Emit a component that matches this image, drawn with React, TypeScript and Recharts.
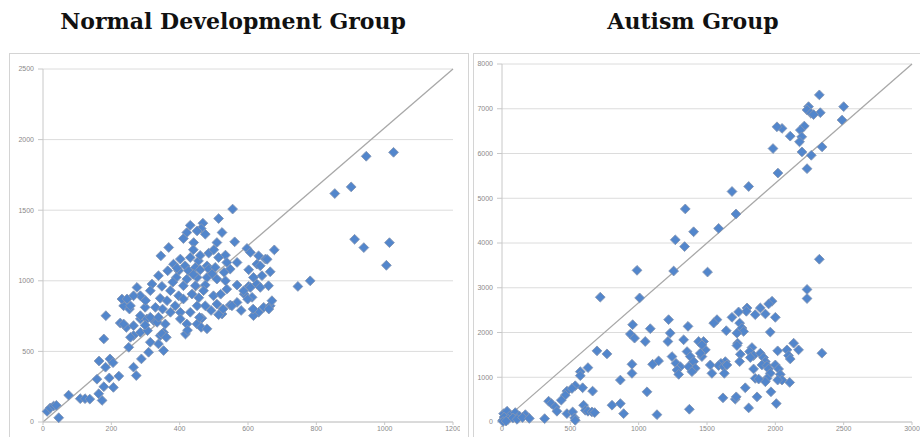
import React from "react";
import {
  ScatterChart,
  Scatter,
  XAxis,
  YAxis,
  CartesianGrid,
  ReferenceLine,
} from "recharts";

// Normal development group: [x, y]
const normalPoints: [number, number][] = [
  [12, 75], [21, 99], [31, 113], [39, 118], [46, 30], [75, 190], [109, 165], [123, 165],
  [137, 162], [158, 303], [163, 200], [164, 432], [173, 153], [178, 250], [183, 388], [178, 588],
  [184, 753], [194, 312], [196, 447], [205, 420], [206, 245], [222, 325], [251, 529], [265, 388],
  [273, 329], [288, 447], [309, 494], [314, 565], [338, 553], [353, 506], [343, 612], [353, 635],
  [236, 823], [253, 800], [226, 701], [244, 670], [265, 682], [285, 730], [285, 635], [306, 647],
  [304, 730], [324, 718], [334, 706], [348, 624], [361, 600], [265, 612], [256, 600],
  [555, 1508], [514, 1441], [431, 1393], [468, 1408], [463, 1370], [421, 1342], [451, 1353],
  [475, 1330], [524, 1342], [411, 1299], [441, 1271], [509, 1271], [561, 1276], [368, 1236],
  [597, 1229], [677, 1219], [485, 1196], [345, 1177], [534, 1182], [607, 1201], [631, 1177],
  [651, 1154], [402, 1154], [431, 1165], [455, 1141], [514, 1165], [568, 1130], [626, 1118],
  [382, 1118], [416, 1106], [446, 1095], [480, 1106], [538, 1130], [365, 1071], [397, 1071],
  [426, 1071], [460, 1078], [485, 1083], [504, 1095], [548, 1083], [602, 1078], [636, 1106],
  [665, 1064], [390, 1024], [421, 1012], [451, 1024], [480, 1024], [509, 1012], [616, 1024],
  [641, 1036], [338, 1036], [411, 965], [446, 965], [475, 970], [534, 1000], [568, 970],
  [602, 961], [626, 977], [660, 965], [319, 977], [348, 961], [373, 930], [314, 930], [397, 894],
  [436, 906], [470, 930], [499, 894], [538, 941], [589, 906], [612, 883], [275, 953], [285, 894],
  [343, 876], [363, 859], [411, 871], [387, 823], [451, 823], [475, 823], [509, 835], [548, 828],
  [568, 847], [646, 812], [665, 823], [670, 859], [631, 777], [231, 871], [246, 871], [256, 823],
  [265, 894], [299, 812], [329, 812], [373, 777], [402, 777], [431, 777], [524, 765], [285, 753],
  [314, 742], [338, 742], [402, 730], [465, 735], [616, 753], [236, 694], [299, 686], [358, 694],
  [421, 694], [451, 694], [417, 623], [423, 650], [463, 670], [458, 741], [480, 660], [553, 823],
  [587, 929], [599, 870], [607, 953], [615, 800], [636, 953], [661, 800], [656, 1152], [527, 800],
  [514, 760], [746, 960], [782, 1000], [854, 1618], [902, 1665], [946, 1882], [1026, 1910],
  [912, 1294], [939, 1235], [1014, 1270], [1005, 1110], [392, 1090], [440, 1045], [495, 1050],
  [530, 1060], [456, 880], [520, 905], [492, 790], [580, 790], [350, 800], [300, 860], [460, 1180],
  [500, 1220], [440, 1220], [380, 990],
];

// Autism group: [x, y]
const autismPoints: [number, number][] = [
  [2322, 7310], [2243, 7047], [2232, 6973], [2261, 6898], [2329, 6912], [2280, 6870], [2500, 7047],
  [2488, 6748], [2212, 6613], [2183, 6523], [2193, 6372], [2177, 6260], [2109, 6388], [2049, 6561],
  [2012, 6597], [1983, 6111], [2195, 6035], [2263, 5960], [2342, 6148], [2232, 5661], [2019, 5563],
  [1805, 5263], [1683, 5151], [1712, 4648], [1585, 4326], [1402, 4251], [1341, 4761], [1268, 4071],
  [1336, 3920], [988, 3389], [1256, 3374], [1504, 3351], [2322, 3637], [2232, 2962], [2232, 2759],
  [1007, 2773], [719, 2789],
  [1976, 2699], [1951, 2638], [1890, 2549], [1927, 2414], [1853, 2399], [1793, 2549], [1788, 2474],
  [1731, 2459], [1683, 2339], [2000, 2339], [1573, 2287], [1549, 2211], [1739, 2211], [1756, 2099],
  [1768, 2024], [1719, 1986], [1641, 2040], [1963, 2009], [1724, 1761], [1719, 1709], [1475, 1799],
  [1488, 1612], [1463, 1462], [2134, 1761], [2170, 1612], [2341, 1537], [2017, 1590], [2085, 1612],
  [2097, 1484], [2109, 1409], [1829, 1664], [1812, 1574], [1841, 1484], [1817, 1440], [1890, 1537],
  [1914, 1440], [1927, 1350], [1902, 1275], [1939, 1260], [1951, 1185], [1963, 1087], [1939, 974],
  [1927, 900], [2000, 1275], [2024, 1185], [2036, 1064], [2049, 937], [2017, 937], [1744, 1514],
  [1739, 1350], [1634, 1350], [1602, 1312], [1585, 1260], [1622, 1237], [1646, 1275], [1524, 1275],
  [1536, 1087], [1627, 1087], [1841, 1185], [1853, 974], [1878, 960], [2105, 884], [1780, 765],
  [1968, 675], [1866, 562], [1617, 540], [1707, 510], [1714, 562], [2007, 412], [1805, 315],
  [956, 2174], [939, 1964], [970, 1874], [1085, 2085], [1048, 1799], [1219, 2287], [1231, 1987],
  [1214, 1799], [1361, 2137], [1329, 1837], [1439, 1799], [1244, 1462], [1273, 1312], [1305, 1237],
  [1281, 1162], [1293, 1064], [1354, 1574], [1378, 1462], [1402, 1350], [1366, 1237], [1414, 1200],
  [1390, 1124], [1451, 1537], [1463, 1724], [1102, 1290], [1146, 1365], [951, 1290], [951, 1087],
  [866, 937], [1061, 675], [1134, 164], [1371, 285], [695, 1590], [768, 1522], [629, 1215],
  [573, 1124], [573, 1035], [536, 810], [475, 690], [463, 600], [512, 749], [663, 690], [590, 765],
  [434, 488], [341, 465], [361, 412], [390, 337], [402, 240], [312, 75], [475, 187], [517, 225],
  [531, 90], [536, 38], [597, 375], [610, 262], [629, 240], [658, 225], [678, 210], [805, 375],
  [866, 412], [890, 187], [12, 187], [37, 240], [61, 150], [97, 210], [127, 135], [171, 164],
  [24, 75], [5, 38], [15, 110], [45, 60], [80, 90], [110, 60], [150, 100], [200, 80], [8, 10],
  [30, 20],
];

const normalXTicks = [0, 200, 400, 600, 800, 1000, 1200];
const normalYTicks = [0, 500, 1000, 1500, 2000, 2500];
const autismXTicks = [0, 500, 1000, 1500, 2000, 2500, 3000];
const autismYTicks = [0, 1000, 2000, 3000, 4000, 5000, 6000, 7000, 8000];

const toRows = (pts: [number, number][]) => pts.map(([x, y]) => ({ x, y }));

const Diamond = (props: any) => {
  const { cx, cy } = props;
  if (cx == null || cy == null) return null;
  const r = 4.9;
  return (
    <path
      d={`M${cx},${cy - r}L${cx + r},${cy}L${cx},${cy + r}L${cx - r},${cy}Z`}
      fill="#5286cc"
      stroke="#8395b3"
      strokeWidth={0.9}
    />
  );
};

const tickStyle = { fontSize: 7, fill: "#8a8a8a", fontFamily: "Liberation Sans" };

const titleStyle: React.CSSProperties = {
  position: "absolute",
  top: 8,
  fontFamily: "DejaVu Serif",
  fontWeight: 700,
  fontSize: 22,
  color: "#111",
  textAlign: "center",
  whiteSpace: "nowrap",
};

function Panel({
  left,
  points,
  xMax,
  yMax,
  xTicks,
  yTicks,
  yAxisWidth,
  top,
  right,
}: {
  left: number;
  points: [number, number][];
  xMax: number;
  yMax: number;
  xTicks: number[];
  yTicks: number[];
  yAxisWidth: number;
  top: number;
  right: number;
}) {
  return (
    <div style={{ position: "absolute", left, top: 0 }}>
      <ScatterChart
        width={460}
        height={437}
        margin={{ top, right, bottom: 0, left: 0 }}
      >
        <CartesianGrid vertical={false} stroke="#dcdcdc" />
        <XAxis
          type="number"
          dataKey="x"
          domain={[0, xMax]}
          ticks={xTicks}
          height={15}
          tick={tickStyle}
          tickSize={3}
          tickMargin={1}
          stroke="#c8c8c8"
          interval={0}
        />
        <YAxis
          type="number"
          dataKey="y"
          domain={[0, yMax]}
          ticks={yTicks}
          width={yAxisWidth}
          tick={tickStyle}
          tickSize={5}
          tickMargin={4}
          stroke="#c8c8c8"
          interval={0}
        />
        <Scatter data={toRows(points)} shape={<Diamond />} isAnimationActive={false} />
        <ReferenceLine
          segment={[
            { x: 0, y: 0 },
            { x: xMax, y: yMax },
          ]}
          stroke="#a8a8a8"
          strokeWidth={1.3}
        />
      </ScatterChart>
    </div>
  );
}

export default function App() {
  return (
    <div
      style={{
        position: "absolute",
        left: 0,
        top: 0,
        width: 920,
        height: 437,
        background: "#fff",
        overflow: "hidden",
      }}
    >
      <div style={{ ...titleStyle, left: 0, width: 466 }}>Normal Development Group</div>
      <div style={{ ...titleStyle, left: 466, width: 454 }}>Autism Group</div>
      <div
        style={{
          position: "absolute",
          left: 9,
          top: 53,
          width: 458,
          height: 400,
          border: "1px solid #d4d4d4",
        }}
      />
      <div
        style={{
          position: "absolute",
          left: 473,
          top: 53,
          width: 446,
          height: 400,
          border: "1px solid #d4d4d4",
        }}
      />
      <Panel
        left={0}
        points={normalPoints}
        xMax={1200}
        yMax={2500}
        xTicks={normalXTicks}
        yTicks={normalYTicks}
        yAxisWidth={43}
        top={69}
        right={7}
      />
      <Panel
        left={460}
        points={autismPoints}
        xMax={3000}
        yMax={8000}
        xTicks={autismXTicks}
        yTicks={autismYTicks}
        yAxisWidth={42}
        top={64}
        right={8}
      />
    </div>
  );
}
